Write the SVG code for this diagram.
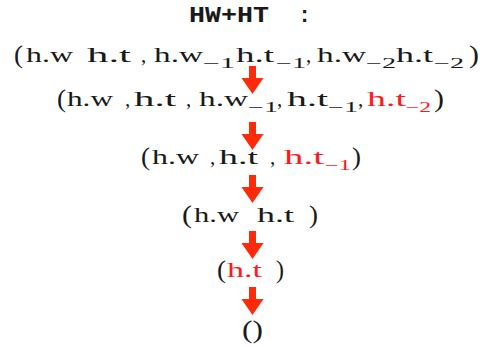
<svg xmlns="http://www.w3.org/2000/svg" width="492" height="347" viewBox="0 0 492 347">
<style>
text{font-family:"Liberation Serif","Times New Roman",serif;font-size:21px;fill:#1a1a1a}
.s{font-size:14px}
.p{font-size:26px}
.r{fill:#ff1a1a}
.tt{font-family:"Liberation Mono","Courier New",monospace;font-size:22px;font-weight:bold}
.arr{fill:#ff2a0a}
</style>
<defs>
<path id="arrow" d="M-3.5 0 H3.5 V12 H11 L0 28 L-11 12 H-3.5 Z"/>
</defs>
<rect width="492" height="347" fill="#fff"/>
<g id="title">
<text class="tt" x="189" y="22" textLength="80" lengthAdjust="spacingAndGlyphs">HW+HT</text>
<text class="tt" x="298" y="22">:</text>
</g>
<g id="n1">
<text class="p" x="14" y="63" textLength="9" lengthAdjust="spacingAndGlyphs">(</text>
<text x="26" y="62" textLength="47" lengthAdjust="spacingAndGlyphs">h.w</text>
<text x="87" y="62" textLength="44" lengthAdjust="spacingAndGlyphs">h.t</text>
<text x="141" y="62">,</text>
<text x="154" y="62" textLength="49" lengthAdjust="spacingAndGlyphs">h.w</text>
<text class="s" x="203" y="68" textLength="32" lengthAdjust="spacingAndGlyphs">−1</text>
<text x="236" y="62" textLength="38" lengthAdjust="spacingAndGlyphs">h.t</text>
<text class="s" x="276" y="68" textLength="30" lengthAdjust="spacingAndGlyphs">−1</text>
<text x="306" y="62">,</text>
<text x="317" y="62" textLength="49" lengthAdjust="spacingAndGlyphs">h.w</text>
<text class="s" x="366" y="68" textLength="30" lengthAdjust="spacingAndGlyphs">−2</text>
<text x="396" y="62" textLength="37" lengthAdjust="spacingAndGlyphs">h.t</text>
<text class="s" x="434" y="68" textLength="30" lengthAdjust="spacingAndGlyphs">−2</text>
<text class="p" x="469" y="63" textLength="10" lengthAdjust="spacingAndGlyphs">)</text>
</g>
<g id="n2">
<text class="p" x="57" y="107" textLength="9" lengthAdjust="spacingAndGlyphs">(</text>
<text x="67" y="106" textLength="46" lengthAdjust="spacingAndGlyphs">h.w</text>
<text x="125" y="106">,</text>
<text x="134" y="106" textLength="42" lengthAdjust="spacingAndGlyphs">h.t</text>
<text x="186" y="106">,</text>
<text x="199" y="106" textLength="49" lengthAdjust="spacingAndGlyphs">h.w</text>
<text class="s" x="248" y="112" textLength="30" lengthAdjust="spacingAndGlyphs">−1</text>
<text x="277" y="106">,</text>
<text x="287" y="106" textLength="41" lengthAdjust="spacingAndGlyphs">h.t</text>
<text class="s" x="328" y="112" textLength="30" lengthAdjust="spacingAndGlyphs">−1</text>
<text x="358" y="106">,</text>
<text class="r" x="367" y="106" textLength="39" lengthAdjust="spacingAndGlyphs">h.t</text>
<text class="s r" x="406" y="112" textLength="25" lengthAdjust="spacingAndGlyphs">−2</text>
<text class="p" x="434" y="107" textLength="10" lengthAdjust="spacingAndGlyphs">)</text>
</g>
<g id="n3">
<text class="p" x="141" y="165" textLength="9" lengthAdjust="spacingAndGlyphs">(</text>
<text x="152" y="164" textLength="47" lengthAdjust="spacingAndGlyphs">h.w</text>
<text x="210" y="164">,</text>
<text x="219" y="164" textLength="39" lengthAdjust="spacingAndGlyphs">h.t</text>
<text x="270" y="164">,</text>
<text class="r" x="284" y="164" textLength="40" lengthAdjust="spacingAndGlyphs">h.t</text>
<text class="s r" x="325" y="170" textLength="26" lengthAdjust="spacingAndGlyphs">−1</text>
<text class="p" x="352" y="165" textLength="9" lengthAdjust="spacingAndGlyphs">)</text>
</g>
<g id="n4">
<text class="p" x="182" y="223" textLength="10" lengthAdjust="spacingAndGlyphs">(</text>
<text x="194" y="222" textLength="45" lengthAdjust="spacingAndGlyphs">h.w</text>
<text x="257" y="222" textLength="37" lengthAdjust="spacingAndGlyphs">h.t</text>
<text class="p" x="309" y="223" textLength="9" lengthAdjust="spacingAndGlyphs">)</text>
</g>
<g id="n5">
<text class="p" x="217" y="278" textLength="9" lengthAdjust="spacingAndGlyphs">(</text>
<text class="r" x="227" y="277" textLength="35" lengthAdjust="spacingAndGlyphs">h.t</text>
<text class="p" x="276" y="278" textLength="8" lengthAdjust="spacingAndGlyphs">)</text>
</g>
<g id="n6">
<text class="p" x="242" y="338" textLength="21" lengthAdjust="spacingAndGlyphs">()</text>
</g>
<g id="connectors" class="arr">
<use href="#arrow" x="252.5" y="66"/>
<use href="#arrow" x="252.5" y="122"/>
<use href="#arrow" x="252.5" y="175"/>
<use href="#arrow" x="252.5" y="231"/>
<use href="#arrow" x="252.5" y="287"/>
</g>
</svg>
